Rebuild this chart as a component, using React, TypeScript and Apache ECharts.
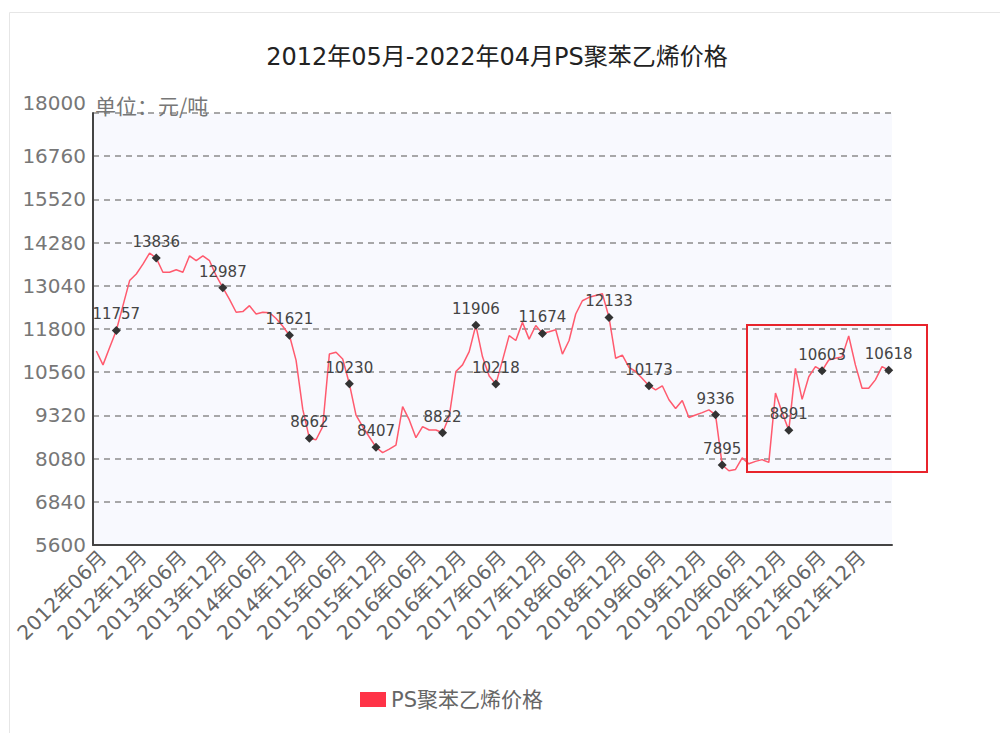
import React, { useEffect, useRef } from 'react';
import * as echarts from 'echarts';

const TITLE = '2012年05月-2022年04月PS聚苯乙烯价格';
const SERIES_NAME = 'PS聚苯乙烯价格';
const UNIT = '单位：元/吨';

// monthly categories 2012-05 .. 2022-04
const START_YEAR = 2012;
const START_MONTH = 5;
const MONTH_COUNT = 120;
const months: string[] = [];
for (let i = 0; i < MONTH_COUNT; i++) {
  const t = START_MONTH - 1 + i;
  const y = START_YEAR + Math.floor(t / 12);
  const m = (t % 12) + 1;
  months.push(`${y}年${m < 10 ? '0' + m : m}月`);
}

const prices = [
  11170, 10770, 11270, 11757, 12470, 13190, 13380, 13660, 13980, 13836,
  13430, 13430, 13500, 13430, 13900, 13760, 13900, 13760, 13330, 12987,
  12650, 12280, 12300, 12470, 12230, 12280, 12270, 12100, 11880, 11621,
  10900, 9500, 8662, 8620, 9000, 11080, 11130, 10940, 10230, 9330,
  9000, 8700, 8407, 8250, 8350, 8470, 9570, 9190, 8680, 9000,
  8900, 8900, 8822, 9290, 10580, 10770, 11150, 11906, 11000, 10450,
  10218, 10900, 11610, 11470, 11990, 11510, 11900, 11674, 11720, 11780,
  11080, 11470, 12230, 12610, 12710, 12760, 12810, 12133, 10960, 11050,
  10700, 10580, 10380, 10173, 10050, 10170, 9770, 9520, 9750, 9260,
  9330, 9400, 9480, 9336, 7895, 7730, 7770, 8100, 7930, 8000,
  8050, 7970, 9960, 9400, 8891, 10670, 9780, 10430, 10720, 10603,
  10910, 10960, 11000, 11600, 10770, 10100, 10100, 10340, 10720, 10618,
];

// months whose value is marked with a diamond and a label
const labeledIdx = [3, 9, 19, 29, 32, 38, 42, 52, 57, 60, 67, 77, 83, 93, 94, 104, 109, 119];

const Y_MIN = 5600;
const Y_MAX = 18000;
const Y_STEP = 1240;

const CJK = '"Noto Sans CJK SC", "Noto Sans", sans-serif';
const MIXED = '"DejaVu Sans", "Noto Sans CJK SC", sans-serif';

export default function App() {
  const ref = useRef<HTMLDivElement>(null);
  useEffect(() => {
    if (!ref.current) return;
    const chart = echarts.init(ref.current, undefined, { renderer: 'svg' });
    const data = prices.map((v, i) =>
      labeledIdx.includes(i)
        ? {
            value: v,
            symbol: 'diamond',
            symbolSize: 9,
            itemStyle: { color: '#333333' },
            label: { show: true },
          }
        : { value: v }
    );
    const showIdx = (index: number) => index % 6 === 1;
    chart.setOption({
      animation: false,
      backgroundColor: '#ffffff',
      title: {
        text: TITLE,
        left: 492,
        textAlign: 'center',
        top: 40,
        textStyle: { fontFamily: MIXED, fontSize: 24, fontWeight: 'normal', color: '#222222' },
      },
      legend: {
        data: [SERIES_NAME],
        left: 355,
        top: 684,
        icon: 'rect',
        itemWidth: 26,
        itemHeight: 15,
        itemGap: 5,
        textStyle: { fontFamily: MIXED, fontSize: 21, color: '#666666' },
        itemStyle: { color: '#ff3347' },
      },
      grid: {
        left: 93,
        right: 108,
        top: 113,
        bottom: 188,
        show: true,
        backgroundColor: '#f8f9fe',
        borderWidth: 0,
      },
      xAxis: {
        type: 'category',
        data: months,
        boundaryGap: true,
        axisLine: { lineStyle: { color: '#444444', width: 2 } },
        axisTick: { alignWithLabel: true, interval: showIdx, length: 5, lineStyle: { color: '#444444' } },
        axisLabel: {
          interval: showIdx,
          rotate: 45,
          margin: 9,
          fontFamily: MIXED,
          fontSize: 20,
          color: '#666666',
        },
        splitLine: { show: false },
      },
      yAxis: {
        type: 'value',
        min: Y_MIN,
        max: Y_MAX,
        interval: Y_STEP,
        name: UNIT,
        nameLocation: 'end',
        nameGap: 8,
        nameTextStyle: {
          fontFamily: CJK,
          fontSize: 21,
          color: '#777777',
          align: 'left',
          verticalAlign: 'middle',
          padding: [0, 0, 0, 2],
        },
        axisLine: { show: true, lineStyle: { color: '#444444', width: 2 } },
        axisTick: { show: false },
        axisLabel: {
          margin: 7,
          fontFamily: MIXED,
          fontSize: 20,
          color: '#777777',
          formatter: (v: number) => String(v),
          verticalAlignMaxLabel: 'bottom',
        },
        splitLine: { lineStyle: { color: '#8c8c8c', width: 1.5, type: [6, 5] } },
      },
      series: [
        {
          name: SERIES_NAME,
          type: 'line',
          data,
          symbol: 'none',
          showSymbol: true,
          showAllSymbol: true,
          color: '#ff3347',
          lineStyle: { color: '#ff5a6e', width: 1.5 },
          label: {
            show: false,
            position: 'top',
            distance: 4,
            fontFamily: MIXED,
            fontSize: 15,
            color: '#444444',
          },
          emphasis: { disabled: true },
        },
      ],
      graphic: [
        {
          type: 'rect',
          shape: { x: 9.5, y: 12.5, width: 1000, height: 730 },
          style: { fill: 'none', stroke: '#e6e6e6', lineWidth: 1 },
          silent: true,
          z: -1,
        },
        {
          type: 'rect',
          shape: { x: 747, y: 325, width: 180, height: 147 },
          style: { fill: 'none', stroke: '#e8242c', lineWidth: 2 },
          silent: true,
          z: 100,
        },
      ],
    });
    return () => chart.dispose();
  }, []);
  return (
    <div
      ref={ref}
      style={{ position: 'fixed', left: 0, top: 0, width: 1000, height: 733 }}
    />
  );
}
